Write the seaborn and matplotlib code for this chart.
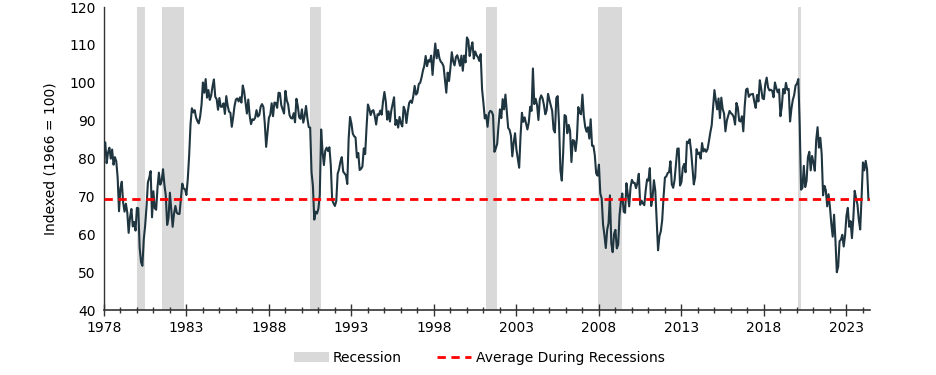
import numpy as np
import pandas as pd
import matplotlib
matplotlib.use("Agg")
import matplotlib.pyplot as plt
from matplotlib.patches import Patch
from matplotlib.lines import Line2D
import seaborn as sns

# monthly values, Jan 1978 .. May 2024 (1966 = 100)
sentiment = [
    83.7, 84.3, 78.8, 81.6, 82.9, 80.0, 82.4, 78.4, 80.4, 79.3, 75.0, 66.1,
    72.1, 73.9, 68.4, 66.0, 68.1, 65.8, 60.4, 64.5, 66.7, 62.1, 63.3, 61.0,
    67.0, 66.9, 56.5, 52.7, 51.7, 58.7, 62.3, 67.3, 73.7, 75.0, 76.7, 64.5,
    71.4, 66.9, 66.5, 72.4, 76.3, 73.1, 74.1, 77.2, 73.1, 70.3, 62.5, 64.3,
    71.0, 66.5, 62.0, 65.5, 67.5, 65.7, 65.4, 65.4, 69.3, 73.4, 72.1, 71.9,
    70.4, 74.6, 80.8, 89.1, 93.3, 92.2, 92.8, 90.9, 89.9, 89.3, 91.1, 94.2,
    100.1, 97.4, 101.0, 96.1, 98.1, 95.5, 96.6, 99.1, 100.9, 96.3, 95.7, 92.9,
    96.0, 93.7, 93.7, 94.6, 91.8, 96.5, 94.0, 92.4, 92.1, 88.4, 90.9, 93.9,
    95.6, 95.9, 95.1, 96.2, 94.8, 99.3, 97.7, 94.9, 91.9, 95.6, 91.4, 89.1,
    90.4, 90.2, 90.8, 92.8, 91.1, 91.5, 93.7, 94.4, 93.6, 89.3, 83.1, 86.8,
    90.8, 91.6, 94.6, 91.2, 94.8, 94.7, 93.4, 97.4, 97.3, 94.1, 93.0, 91.9,
    97.9, 95.4, 94.3, 91.5, 90.7, 90.6, 92.0, 89.6, 95.8, 93.9, 90.9, 90.5,
    93.0, 89.5, 91.3, 93.9, 90.6, 88.3, 88.2, 76.4, 72.8, 63.9, 66.0, 65.5,
    66.8, 70.4, 87.7, 81.8, 78.3, 82.1, 82.9, 82.0, 83.0, 78.3, 69.1, 68.2,
    67.5, 68.8, 76.0, 77.2, 79.2, 80.4, 76.6, 76.1, 75.6, 73.3, 85.3, 91.0,
    89.3, 86.6, 85.9, 85.6, 80.3, 81.5, 77.0, 77.3, 77.9, 82.7, 81.2, 88.2,
    94.3, 93.2, 91.5, 92.6, 92.8, 91.2, 89.0, 91.7, 91.5, 92.7, 91.6, 95.1,
    97.6, 95.1, 90.3, 92.5, 89.8, 92.7, 94.4, 96.2, 88.9, 90.2, 88.2, 91.0,
    89.3, 88.5, 93.7, 92.7, 89.4, 92.4, 94.7, 95.3, 94.7, 96.5, 99.2, 96.9,
    97.4, 99.7, 100.0, 101.4, 103.2, 104.5, 107.1, 104.4, 106.0, 105.6, 107.2, 102.1,
    106.6, 110.4, 106.5, 108.7, 106.5, 105.6, 105.2, 104.4, 100.9, 97.4, 102.7, 100.5,
    103.9, 108.1, 105.7, 104.6, 106.8, 107.3, 106.0, 104.5, 107.2, 103.2, 107.2, 105.4,
    112.0, 111.3, 107.1, 109.2, 110.7, 106.4, 108.3, 107.3, 106.8, 105.8, 107.6, 98.4,
    94.7, 90.6, 91.5, 88.4, 92.0, 92.6, 92.4, 91.5, 81.8, 82.7, 83.9, 88.8,
    93.0, 90.7, 95.7, 93.0, 96.9, 92.4, 88.1, 87.6, 86.1, 80.6, 84.2, 86.7,
    82.4, 79.9, 77.6, 86.0, 92.1, 89.7, 90.9, 89.3, 87.7, 89.6, 93.7, 92.6,
    103.8, 94.4, 95.8, 94.2, 90.2, 95.6, 96.7, 95.9, 94.2, 91.7, 92.8, 97.1,
    95.5, 94.1, 92.6, 87.7, 86.9, 96.0, 96.5, 89.1, 76.9, 74.2, 81.6, 91.5,
    91.2, 86.7, 88.9, 87.4, 79.1, 84.9, 84.7, 82.0, 85.4, 93.6, 92.1, 91.7,
    96.9, 91.3, 88.4, 87.1, 88.3, 85.3, 90.4, 83.4, 83.4, 80.9, 76.1, 75.5,
    78.4, 70.8, 69.5, 62.6, 59.8, 56.4, 61.2, 63.0, 70.3, 57.6, 55.3, 60.1,
    61.2, 56.3, 57.3, 65.1, 68.7, 70.8, 66.0, 65.7, 73.5, 70.6, 67.4, 72.5,
    74.4, 73.6, 73.6, 72.2, 73.6, 76.0, 67.8, 68.9, 68.2, 67.7, 71.6, 74.5,
    74.2, 77.5, 67.5, 69.8, 74.3, 71.5, 63.7, 55.8, 59.5, 60.8, 63.7, 69.9,
    75.0, 75.3, 76.2, 76.4, 79.3, 73.2, 72.3, 74.3, 78.3, 82.6, 82.7, 72.9,
    73.8, 77.6, 78.6, 76.4, 84.5, 84.1, 85.1, 82.1, 77.5, 73.2, 75.1, 82.5,
    81.2, 81.6, 80.0, 84.1, 81.9, 82.5, 81.8, 82.5, 84.6, 86.9, 88.8, 93.6,
    98.1, 95.4, 93.0, 95.9, 90.7, 96.1, 93.1, 91.9, 87.2, 90.0, 91.3, 92.6,
    92.0, 91.7, 91.0, 89.0, 94.7, 93.5, 90.0, 89.8, 91.2, 87.2, 93.8, 98.2,
    98.5, 96.3, 96.9, 97.0, 97.1, 95.0, 93.4, 96.8, 95.1, 100.7, 98.5, 95.9,
    95.7, 99.7, 101.4, 98.8, 98.0, 98.2, 97.9, 96.2, 100.1, 98.6, 97.5, 98.3,
    91.2, 93.8, 98.4, 97.2, 100.0, 98.2, 98.4, 89.8, 93.2, 95.5, 96.8, 99.3,
    99.8, 101.0, 89.1, 71.8, 72.3, 78.1, 72.5, 74.1, 80.4, 81.8, 76.9, 80.7,
    79.0, 76.8, 84.9, 88.3, 82.9, 85.5, 81.2, 70.3, 72.8, 71.7, 67.4, 70.6,
    67.2, 62.8, 59.4, 65.2, 58.4, 50.0, 51.5, 58.2, 58.6, 59.9, 56.8, 59.7,
    64.9, 67.0, 62.0, 63.5, 59.0, 64.2, 71.5, 69.5, 67.9, 63.8, 61.3, 69.7,
    79.0, 76.9, 79.4, 77.2, 69.1,
]

recession_start = [1980.0, 1981.5, 1990.5, 2001.17, 2007.92, 2020.08]
recession_end = [1980.5, 1982.83, 1991.17, 2001.83, 2009.42, 2020.25]
avg_during_recessions = 69.3

months = np.arange(len(sentiment))
df = pd.DataFrame({"year": 1978 + months / 12.0, "value": sentiment})

plt.rcParams['font.family'] = ['DejaVu Sans']
fig = plt.figure(figsize=(9.36, 3.75), dpi=100)
ax = fig.add_axes([0.111, 0.173, 0.818, 0.808])

for s, e in zip(recession_start, recession_end):
    ax.axvspan(s, e, color='#d9d9d9', lw=0, zorder=0)

sns.lineplot(data=df, x="year", y="value", ax=ax, color='#1f3540', lw=1.5, zorder=3)
ax.axhline(avg_during_recessions, color='#ff0000', ls=(0, (3, 2)), lw=2, zorder=4)

ax.set_xlim(1978, 2024.4)
ax.set_ylim(40, 120)
ax.set_xticks(np.arange(1978, 2024, 5))
ax.set_xticks(np.arange(1978, 2025, 1), minor=True)
ax.set_yticks(np.arange(40, 121, 10))
ax.tick_params(axis='x', which='major', direction='inout', length=8, width=1, color='#333333', labelsize=10, pad=4)
ax.tick_params(axis='x', which='minor', direction='inout', length=4, width=1, color='#333333')
ax.tick_params(axis='y', length=0, labelsize=10, pad=6)
ax.set_xlabel('')
ax.set_ylabel('Indexed (1966 = 100)', fontsize=10, labelpad=8)
for side in ['top', 'right']:
    ax.spines[side].set_visible(False)
ax.spines['bottom'].set_color('#333333')
ax.spines['left'].set_color('#333333')
ax.spines['bottom'].set_linewidth(1.2)
ax.spines['left'].set_linewidth(1.0)

handles = [Patch(facecolor='#d9d9d9', edgecolor='none'),
           Line2D([0], [0], color='#ff0000', ls=(0, (3, 2)), lw=2)]
fig.legend(handles, ['Recession', 'Average During Recessions'], loc='center',
           bbox_to_anchor=(0.512, 0.045), ncol=2, frameon=False, fontsize=10,
           handlelength=2.5, handletextpad=0.3, columnspacing=2.5)

fig.savefig('out.png', dpi=100)
